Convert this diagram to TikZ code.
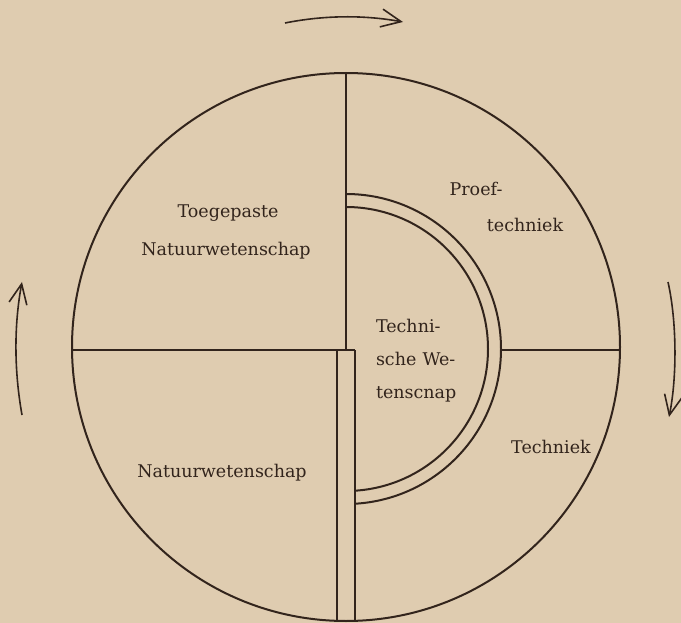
\documentclass[tikz,border=0pt]{standalone}
\usepackage{fontspec}
\setmainfont{DejaVu Serif}
\usetikzlibrary{arrows.meta}
\definecolor{paper}{RGB}{223,204,176}
\definecolor{ink}{RGB}{50,36,28}

\begin{document}
\begin{tikzpicture}[x=1pt,y=-1pt,line width=2pt,color=ink,
  lbl/.style={inner sep=0pt,text=ink,font=\fontsize{17.5}{20}\selectfont},
  turn/.style={line width=1.6pt,-{Straight Barb[length=20pt,width=18pt]}}]
  \fill[paper] (0,0) rectangle (681,623);
  \useasboundingbox (0,0) rectangle (681,623);
  % rim and partition
  \coordinate (O) at (346,347); \coordinate (M) at (346,349);
  \coordinate (top) at (346,73); \coordinate (hub) at (346,350);
  \coordinate (west) at (72,350); \coordinate (east) at (620,350);
  \coordinate (stripL) at (337,350); \coordinate (stripR) at (355,350);
  \coordinate (footL) at (337,620.8); \coordinate (footR) at (355,620.8);
  \coordinate (ringE) at (501,350);
  \coordinate (ringN) at (346,194); \coordinate (ringn) at (346,207);
  \draw (O) circle[radius=274];
  \draw (top)--(hub);
  \draw (west)--(stripR);
  \draw (stripL)--(footL); \draw (stripR)--(footR);
  \draw (ringE)--(east);
  \draw (ringN) arc[start angle=-90,end angle=86.67,radius=155];
  \draw (ringn) arc[start angle=-90,end angle=86.37,radius=142];
  % turning arrows
  \coordinate (nS) at (285,23); \coordinate (nE) at (403,22);
  \coordinate (wS) at (22,415); \coordinate (wE) at (22,282);
  \coordinate (eS) at (668,282); \coordinate (eE) at (669,417);
  \draw[turn] (nS) .. controls (325,15) and (365,15) .. (nE);
  \draw[turn] (wS) .. controls (14,370) and (14,325) .. (wE);
  \draw[turn] (eS) .. controls (677,322) and (677,378) .. (eE);
  % labels
  \node[lbl,anchor=base] (toeg) at (228,218) {Toegepaste};
  \node[lbl,anchor=base] (natA) at (226,255) {Natuurwetenschap};
  \node[lbl,anchor=base] (proef) at (476,196) {Proef-};
  \node[lbl,anchor=base] (proefB) at (525,232) {techniek};
  \foreach \i/\t/\y in {1/Techni-/332,2/sche\hspace{0.35em}We-/365,3/tenscnap/398}
    \node[lbl,anchor=base west] (tw\i) at (375,\y) {\t};
  \node[lbl,anchor=base] (natB) at (222,477) {Natuurwetenschap};
  \node[lbl,anchor=base] (tech) at (551,453) {Techniek};
\end{tikzpicture}
\end{document}
